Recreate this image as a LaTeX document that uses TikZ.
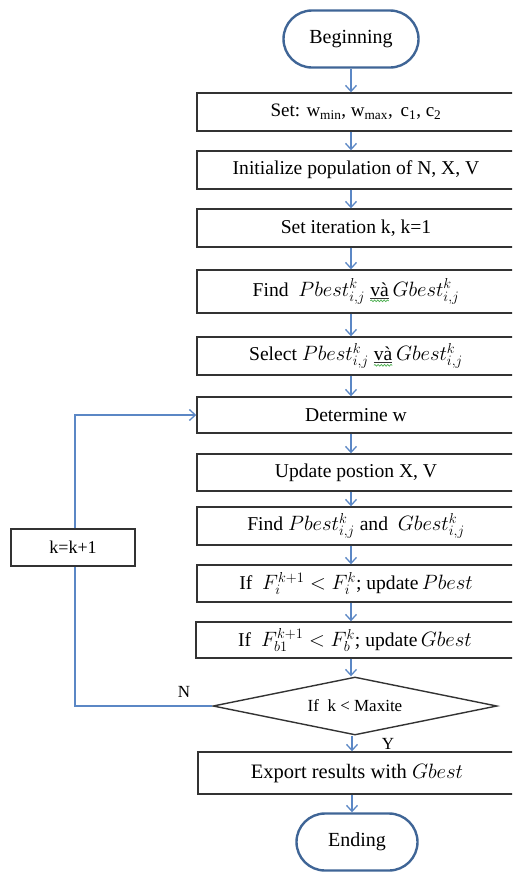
\documentclass[tikz,border=0pt]{standalone}
\usepackage{fontspec}
\setmainfont{Liberation Serif}
\usetikzlibrary{arrows.meta,shapes.geometric,shapes.misc,decorations.pathmorphing}

\definecolor{flow}{HTML}{5B87C5}
\definecolor{term}{HTML}{3F6596}
\definecolor{edge}{HTML}{333333}
\definecolor{spell}{HTML}{4CAF50}

% word with a spell-check squiggle underneath
\newcommand\spellmark[1]{\tikz[baseline=(sw.base)]{%
  \node[rectangle,draw=none,minimum width=0pt,minimum height=0pt,inner sep=0pt,outer sep=0pt] (sw) {#1};
  \draw[edge,line width=0.5pt] ([yshift=-1.5pt]sw.base west) -- ([yshift=-1.5pt]sw.base east);
  \draw[spell,line width=0.7pt,decorate,decoration={snake,amplitude=0.9pt,segment length=3.2pt}]
    ([yshift=-4.5pt]sw.base west) -- ([yshift=-4.5pt]sw.base east);}}

\begin{document}
\begin{tikzpicture}[x=1pt,y=-1pt,
  stepbox/.style={draw=edge,line width=1.4pt,rectangle,minimum width=318pt,minimum height=38pt,
    inner sep=0pt,font=\fontsize{19.6}{22}\selectfont},
  termbox/.style={draw=term,line width=2.4pt,rounded rectangle,minimum height=57pt,
    inner sep=0pt,font=\fontsize{20}{24}\selectfont},
  decide/.style={draw=edge,line width=1.4pt,diamond,aspect=4.9,inner sep=0pt,
    minimum width=284pt,minimum height=58pt,font=\fontsize{17}{20}\selectfont},
  flowline/.style={draw=flow,line width=1.3pt,-{Straight Barb[length=6pt,width=11pt,line width=1.3pt]}},
  tag/.style={font=\fontsize{17}{20}\selectfont,inner sep=0pt}]
\useasboundingbox (0,0) rectangle (512,873);
\clip (0,0) rectangle (512,873);

\node[termbox,minimum width=135pt] (begin) at (351,39) {Beginning};
\node[stepbox,font=\fontsize{19}{22}\selectfont] (setp) at (356,112) {Set: w\textsubscript{min}, w\textsubscript{max}, \,c\textsubscript{1}, c\textsubscript{2}};
\node[stepbox] (init) at (356,170) {Initialize population of N, X, V};
\node[stepbox] (iter) at (356,228) {Set iteration k, k=1};
\node[stepbox,minimum height=43pt] (find1) at (356,291.5) {Find \ $Pbest_{i,j}^{k}$ \spellmark{và}\,$Gbest_{i,j}^{k}$};
\node[stepbox] (sel) at (356,356) {Select $Pbest_{i,j}^{k}$ \spellmark{và}\,$Gbest_{i,j}^{k}$};
\node[stepbox,minimum height=36pt] (detw) at (356,415) {Determine w};
\node[stepbox,minimum height=37pt] (upd) at (356,472.5) {Update postion X, V};
\node[stepbox] (find2) at (356,526) {Find $Pbest_{i,j}^{k}$ and \ $Gbest_{i,j}^{k}$};
\node[stepbox,minimum height=37pt] (ifp) at (356,583.5) {If \ $F_i^{k+1} < F_i^{k}$; update\,$Pbest$};
\node[stepbox,minimum height=36pt] (ifg) at (355,640) {If \ $F_{b1}^{k+1} < F_b^{k}$; update\,$Gbest$};
\node[decide] (cond) at (355,706) {If \ k < Maxite};
\node[stepbox,minimum height=42pt,font=\fontsize{20.5}{24}\selectfont] (export) at (357,773) {Export results with $Gbest$};
\node[termbox,minimum width=121pt] (ending) at (357,842) {Ending};

\node[draw=edge,line width=1.4pt,rectangle,minimum width=124pt,minimum height=37pt,
  inner sep=0pt,font=\fontsize{18}{21}\selectfont] (incr) at (73,547.5) {k=k+1};

% main sequence
\foreach \a/\b in {begin/setp,setp/init,init/iter,iter/find1,find1/sel,sel/detw,detw/upd,
  upd/find2,find2/ifp,ifp/ifg,ifg/cond}
  \draw[flowline] (\a.south -| 351,0) -- (\b.north -| 351,0);
\draw[flowline] (cond.south -| 352,0) -- (export.north -| 352,0);
\draw[flowline] (export.south -| 352,0) -- (ending.north -| 352,0);

% loop back
\coordinate (loopturn) at (75,415);
\draw[flow,line width=1.3pt] (cond.west) -| (incr.south -| 75,0);
\draw[flowline] (incr.north -| 75,0) -- (loopturn) -- (detw.west);

\node[tag] (nlab) at (184,692) {N};
\node[tag] (ylab) at (388,744) {Y};
\end{tikzpicture}
\end{document}
